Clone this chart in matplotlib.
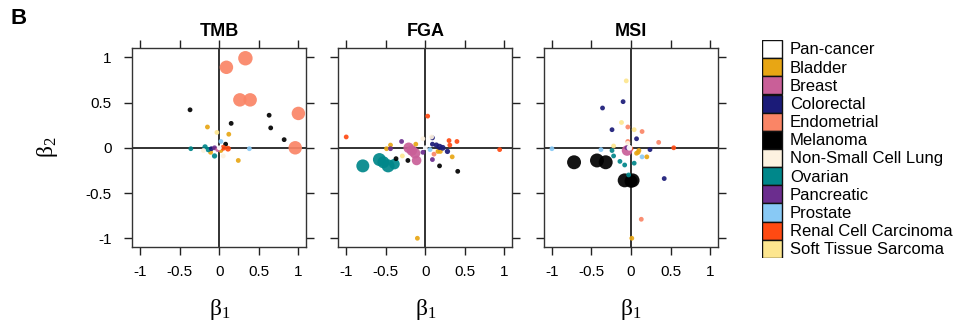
import matplotlib
matplotlib.use('Agg')
import matplotlib.pyplot as plt
from matplotlib.patches import Rectangle

plt.rcParams['font.family'] = ['Liberation Sans', 'DejaVu Sans']
# upright serif beta, like the Symbol font of the original
plt.rcParams['mathtext.fontset'] = 'custom'
plt.rcParams['mathtext.rm'] = 'Liberation Serif'
plt.rcParams['mathtext.it'] = 'Liberation Serif'

# cancer types and their colours (legend order)
cancer_types = ['Pan-cancer', 'Bladder', 'Breast', 'Colorectal', 'Endometrial', 'Melanoma',
                'Non-Small Cell Lung', 'Ovarian', 'Pancreatic', 'Prostate',
                'Renal Cell Carcinoma', 'Soft Tissue Sarcoma']
type_colors = ['#FFFFFF', '#E8A614', '#C95F98', '#1B1B78', '#FA8566', '#000000',
               '#FDF2E0', '#00878A', '#6B2D8E', '#88C9F5', '#FF4A12', '#FDE68F']

panel_titles = ['TMB', 'FGA', 'MSI']

# TMB panel
tmb_type = ['Endometrial', 'Endometrial', 'Endometrial', 'Endometrial', 'Endometrial', 'Endometrial',
            'Melanoma', 'Melanoma', 'Melanoma', 'Melanoma', 'Melanoma', 'Melanoma',
            'Bladder', 'Bladder', 'Bladder', 'Bladder', 'Bladder',
            'Soft Tissue Sarcoma', 'Prostate', 'Prostate',
            'Ovarian', 'Ovarian', 'Ovarian', 'Ovarian',
            'Colorectal', 'Pancreatic', 'Renal Cell Carcinoma', 'Renal Cell Carcinoma',
            'Breast', 'Non-Small Cell Lung', 'Non-Small Cell Lung', 'Pan-cancer']
tmb_b1 = [0.33, 0.09, 0.26, 0.39, 1.00, 0.96,
          -0.37, 0.15, 0.63, 0.65, 0.82, 0.08,
          -0.15, 0.12, 0.24, -0.11, 0.02,
          -0.03, 0.38, 0.02,
          -0.36, -0.18, -0.14, -0.06,
          -0.10, -0.06, 0.05, 0.11,
          -0.02, -0.20, 0.05, 0.00]
tmb_b2 = [0.99, 0.89, 0.53, 0.53, 0.38, 0.00,
          0.42, 0.27, 0.36, 0.22, 0.09, 0.04,
          0.23, 0.15, -0.14, -0.05, -0.03,
          0.17, -0.01, 0.07,
          -0.01, 0.01, -0.02, -0.09,
          -0.01, 0.00, 0.00, -0.01,
          -0.02, -0.03, -0.09, 0.00]
tmb_w = [3.0, 2.8, 2.8, 2.8, 2.8, 2.8,
         1, 1, 1, 1, 1, 1,
         1, 1, 1, 1, 1,
         1, 1, 1,
         1, 1.1, 1.1, 1.1,
         1, 1, 1.2, 1.2,
         1, 1, 1, 1]

# FGA panel
fga_type = ['Ovarian', 'Ovarian', 'Ovarian', 'Ovarian', 'Ovarian',
            'Breast', 'Breast', 'Breast', 'Breast',
            'Renal Cell Carcinoma', 'Renal Cell Carcinoma', 'Renal Cell Carcinoma',
            'Renal Cell Carcinoma', 'Renal Cell Carcinoma', 'Renal Cell Carcinoma',
            'Melanoma', 'Melanoma', 'Melanoma', 'Melanoma',
            'Bladder', 'Bladder', 'Bladder', 'Bladder', 'Bladder', 'Bladder', 'Bladder',
            'Pancreatic', 'Pancreatic', 'Pancreatic', 'Pancreatic',
            'Colorectal', 'Colorectal', 'Colorectal', 'Colorectal', 'Colorectal', 'Colorectal',
            'Prostate', 'Endometrial', 'Non-Small Cell Lung', 'Non-Small Cell Lung',
            'Soft Tissue Sarcoma', 'Pan-cancer']
fga_b1 = [-0.79, -0.58, -0.47, -0.39, -0.53,
          -0.21, -0.13, -0.11, -0.17,
          -1.00, 0.03, 0.30, 0.40, 0.31, 0.94,
          -0.37, -0.22, 0.18, 0.41,
          -0.44, -0.10, 0.34, 0.16, 0.19, -0.49, -0.12,
          -0.30, 0.09, -0.03, -0.44,
          0.09, 0.09, 0.18, 0.22, 0.28, 0.14,
          0.06, 0.11, 0.08, -0.03,
          -0.29, 0.00]
fga_b2 = [-0.20, -0.13, -0.20, -0.18, -0.16,
          0.00, -0.06, -0.14, -0.03,
          0.12, 0.35, 0.08, 0.07, 0.03, -0.02,
          -0.12, -0.14, -0.20, -0.26,
          0.03, -1.00, -0.10, -0.04, -0.04, -0.01, 0.04,
          0.07, -0.13, -0.05, -0.01,
          0.11, 0.04, 0.01, 0.00, -0.04, 0.03,
          -0.02, -0.07, 0.12, 0.10,
          -0.09, 0.00]
fga_w = [2.7, 2.7, 2.7, 2.2, 2.5,
         2.2, 2.2, 2.0, 2.2,
         1, 1, 1, 1, 1, 1,
         1, 1, 1, 1,
         1, 1, 1, 1, 1, 1, 1,
         1, 1, 1, 1,
         1, 1, 1.3, 1.2, 1.1, 1.1,
         1, 1, 1, 1,
         1, 1]

# MSI panel
msi_type = ['Melanoma', 'Melanoma', 'Melanoma', 'Melanoma', 'Melanoma', 'Melanoma',
            'Colorectal', 'Colorectal', 'Colorectal', 'Colorectal', 'Colorectal', 'Colorectal',
            'Soft Tissue Sarcoma', 'Soft Tissue Sarcoma', 'Soft Tissue Sarcoma', 'Soft Tissue Sarcoma',
            'Endometrial', 'Endometrial', 'Endometrial', 'Endometrial', 'Endometrial',
            'Renal Cell Carcinoma', 'Renal Cell Carcinoma',
            'Prostate', 'Prostate', 'Prostate',
            'Bladder', 'Bladder', 'Bladder', 'Bladder', 'Bladder',
            'Ovarian', 'Ovarian', 'Ovarian', 'Ovarian', 'Ovarian', 'Ovarian',
            'Breast', 'Non-Small Cell Lung', 'Pancreatic', 'Pan-cancer']
msi_b1 = [-0.72, -0.43, -0.32, -0.08, 0.02, 0.00,
          -0.36, -0.10, -0.24, 0.07, 0.24, 0.42,
          -0.06, -0.12, 0.04, -0.22,
          -0.04, 0.14, 0.35, 0.13, -0.04,
          0.54, 0.00,
          -1.00, -0.38, 0.14,
          0.01, 0.20, 0.09, 0.10, 0.07,
          -0.24, -0.22, -0.14, -0.08, 0.04, -0.03,
          -0.05, -0.04, -0.05, -0.02]
msi_b2 = [-0.16, -0.14, -0.16, -0.36, -0.36, -0.37,
          0.44, 0.51, 0.20, 0.10, -0.02, -0.34,
          0.74, 0.28, 0.20, 0.02,
          0.23, 0.18, 0.06, -0.79, 0.07,
          0.00, -0.01,
          -0.01, -0.02, -0.10,
          -1.00, -0.10, -0.05, -0.03, -0.06,
          -0.03, -0.09, -0.15, -0.19, -0.17, -0.30,
          -0.03, 0.05, 0.00, 0.00]
msi_w = [2.9, 2.9, 2.9, 2.9, 2.9, 2.7,
         1, 1, 1, 1, 1, 1,
         1, 1, 1, 1,
         1, 1, 1, 1, 1,
         1, 1,
         1, 1, 1,
         1, 1, 1, 1, 1,
         1, 1, 1, 1, 1, 1,
         2.2, 1, 1, 1.2]

panels = [(tmb_type, tmb_b1, tmb_b2, tmb_w),
          (fga_type, fga_b1, fga_b2, fga_w),
          (msi_type, msi_b1, msi_b2, msi_w)]

color_of = dict(zip(cancer_types, type_colors))
ticks = [-1, -0.5, 0, 0.5, 1]
tick_labels = ['-1', '-0.5', '0', '0.5', '1']

W, H = 960, 332
fig = plt.figure(figsize=(W / 100, H / 100), dpi=100)

lefts = [132.3, 338.3, 544.0]
for i, (ctype, b1, b2, w) in enumerate(panels):
    ax = fig.add_axes([lefts[i] / W, (H - 247.3) / H, 174 / W, 199 / H])
    ax.axhline(0, color='#222222', lw=1.3, zorder=1)
    ax.axvline(0, color='#222222', lw=1.3, zorder=1)
    ax.scatter(b1, b2, s=[12 * v ** 2 for v in w], c=[color_of[t] for t in ctype],
               alpha=0.92, linewidths=0, zorder=3)
    ax.set_xlim(-1.1, 1.1)
    ax.set_ylim(-1.1, 1.1)
    ax.set_xticks(ticks)
    ax.set_xticklabels(tick_labels)
    ax.set_yticks(ticks)
    ax.set_yticklabels(tick_labels)
    ax.tick_params(direction='out', length=6, width=1, colors='#222222', labelsize=11,
                   top=True, right=True, left=True, bottom=True,
                   labelleft=(i == 0), pad=7)
    ax.tick_params(axis='x', labelcolor='black')
    ax.tick_params(axis='y', labelcolor='black', pad=9)
    for sp in ax.spines.values():
        sp.set_color('#333333')
        sp.set_linewidth(1)
    ax.set_title(panel_titles[i], fontsize=13, fontweight='bold', pad=9)
    ax.set_xlabel(r'$\beta_1$', fontsize=17, labelpad=13)
    if i == 0:
        ax.set_ylabel(r'$\beta_2$', fontsize=17, labelpad=18)

# legend column of boxes
lax = fig.add_axes([761.7 / W, (H - 258) / H, (W - 761.7) / W, 218 / H])
lax.set_xlim(0, W - 761.7)
lax.set_ylim(len(cancer_types), 0)
lax.axis('off')
for k, (name, col) in enumerate(zip(cancer_types, type_colors)):
    lax.add_patch(Rectangle((0, k), 20.6, 1, facecolor=col, edgecolor='#111111', lw=1))
    lax.text(28.3, k + 0.55, name, fontsize=12, va='center', ha='left')

fig.text(10 / W, 1 - 18 / H, 'B', fontsize=16, fontweight='bold', va='center', ha='left')

fig.savefig('out.png', dpi=100)
